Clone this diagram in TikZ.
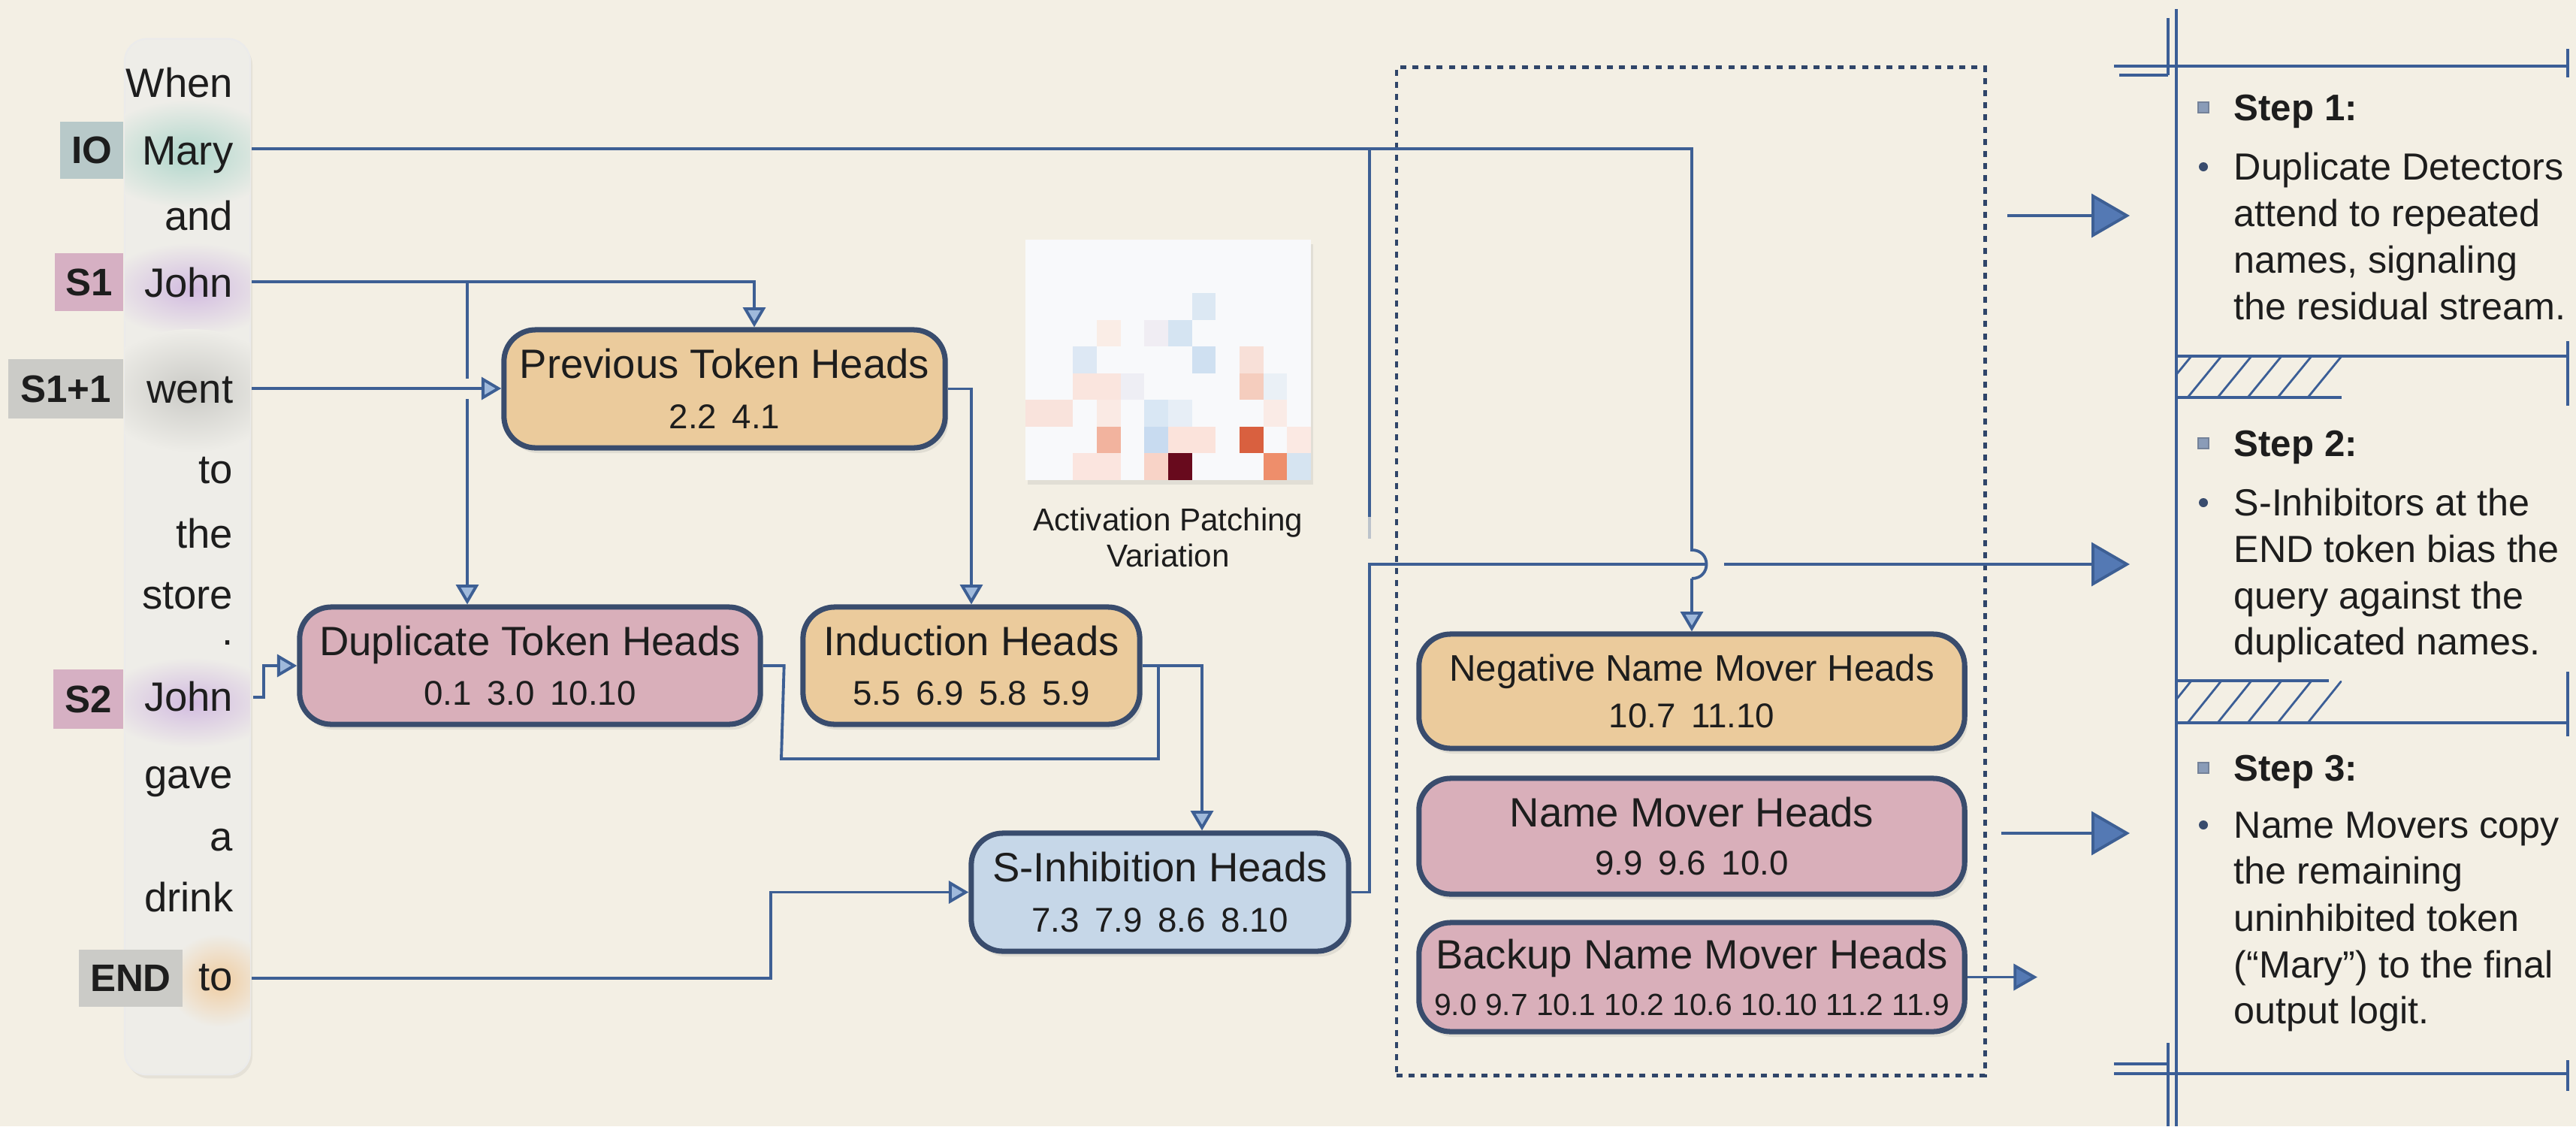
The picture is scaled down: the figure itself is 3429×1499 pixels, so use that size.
\documentclass[tikz,border=0pt]{standalone}
\usepackage{fontspec}
\setmainfont{Liberation Sans}
\usetikzlibrary{arrows.meta,shadows,calc}

\definecolor{paper}{HTML}{F3EFE4}
\definecolor{wirecol}{HTML}{3D5F94}
\definecolor{rim}{HTML}{394C6D}
\definecolor{tipfill}{HTML}{9FB9DB}
\definecolor{stepfill}{HTML}{5479B4}
\definecolor{tanbox}{HTML}{EBCB9C}
\definecolor{rosebox}{HTML}{D9AFBA}
\definecolor{skybox}{HTML}{C6D7E8}
\definecolor{colfill}{HTML}{EEEDE8}
\definecolor{ink}{HTML}{1D1D1D}
\definecolor{tagIO}{HTML}{B8C9C9}
\definecolor{tagS}{HTML}{D6B0C3}
\definecolor{tagG}{HTML}{CBCBC7}
\definecolor{glowTeal}{HTML}{AFD6CB}
\definecolor{glowLilac}{HTML}{D2BBE0}
\definecolor{glowGrey}{HTML}{CACAC6}
\definecolor{glowPeach}{HTML}{F0CCA0}
\definecolor{panelcol}{HTML}{3B5E96}
\definecolor{dotline}{HTML}{2F4569}
\definecolor{bulletsq}{HTML}{8A9CB8}
\definecolor{heatbg}{HTML}{F8F9FB}

\newcommand{\numgap}{\hspace{0.45em}}
% one heatmap cell: column, row, hex colour
\newcommand{\hmcell}[3]{\definecolor{hmtmp}{HTML}{#3}\fill[hmtmp] ({1365+#1*31.667},{319+#2*35.556}) rectangle ++(31.667,35.556);}

\tikzset{
  wireline/.style={draw=wirecol, line width=1.1pt},
  arrowsm/.style={-{Triangle[length=7.5pt, width=8.5pt, fill=tipfill]}},
  arrowmd/.style={-{Triangle[length=9pt, width=10pt, fill=stepfill]}},
  arrowlg/.style={-{Triangle[length=14.5pt, width=16.5pt, fill=stepfill]}},
  headbox/.style={draw=rim, line width=2pt, rounded corners=0.42cm, align=center, inner sep=0pt,
    font=\fontsize{15.5}{19}\selectfont,
    drop shadow={opacity=0.16, shadow xshift=0.04cm, shadow yshift=-0.07cm}},
  tokentag/.style={inner sep=0pt, font=\fontsize{14.5}{17}\selectfont\bfseries},
  tokword/.style={anchor=base east, inner sep=0pt, font=\fontsize{15.5}{18}\selectfont},
  stepline/.style={anchor=base west, inner sep=0pt, font=\fontsize{14.3}{17}\selectfont},
  stephead/.style={anchor=base west, inner sep=0pt, font=\fontsize{14}{17}\selectfont\bfseries},
  panelrule/.style={draw=panelcol, line width=0.9pt},
  hatchline/.style={draw=panelcol, line width=0.8pt},
}

\begin{document}
\begin{tikzpicture}[x=0.01cm, y=-0.01cm, text=ink]
\useasboundingbox (0,0) rectangle (3429,1499);
\fill[paper] (0,0) rectangle (3429,1499);

% ---------- token column ----------
\node[fill=colfill, draw=black!8, line width=0.6pt, rounded corners=0.3cm,
      minimum width=1.67cm, minimum height=13.78cm, inner sep=0pt,
      drop shadow={opacity=0.12, shadow xshift=0.03cm, shadow yshift=-0.05cm}] (col) at (249.5,741) {};
\begin{scope}
  \clip[rounded corners=0.3cm] (166,52) rectangle (333,1430);
  \shade[inner color=glowTeal, outer color=colfill] (250,205) ellipse [x radius=1.25cm, y radius=0.72cm];
  \shade[inner color=glowLilac, outer color=colfill] (255,385) ellipse [x radius=1.2cm, y radius=0.62cm];
  \shade[inner color=glowGrey, outer color=colfill] (255,520) ellipse [x radius=1.25cm, y radius=0.82cm];
  \shade[inner color=glowLilac, outer color=colfill] (255,935) ellipse [x radius=1.2cm, y radius=0.6cm];
  \shade[inner color=glowPeach, outer color=colfill] (292,1305) ellipse [x radius=0.7cm, y radius=0.62cm];
\end{scope}

% position tags
\node[tokentag, fill=tagIO, minimum width=0.84cm, minimum height=0.76cm] (tIO) at (122,200) {IO};
\node[tokentag, fill=tagS, minimum width=0.91cm, minimum height=0.77cm] (tS1) at (118.5,375.5) {S1};
\node[tokentag, fill=tagG, minimum width=1.53cm, minimum height=0.79cm] (tS1n) at (87.5,517.5) {S1+1};
\node[tokentag, fill=tagS, minimum width=0.93cm, minimum height=0.79cm] (tS2) at (117.5,930.5) {S2};
\node[tokentag, fill=tagG, minimum width=1.38cm, minimum height=0.76cm] (tEND) at (174,1302) {END};

% sentence tokens
\node[tokword] (w1) at (311,129) {When};
\node[tokword] (w2) at (311,219) {Mary};
\node[tokword] (w3) at (311,306) {and};
\node[tokword] (w4) at (311,395) {John};
\node[tokword] (w5) at (311,536) {went};
\node[tokword] (w6) at (311,643) {to};
\node[tokword] (w7) at (311,729) {the};
\node[tokword] (w8) at (311,810) {store};
\node[tokword] (w9) at (311,858) {.};
\node[tokword] (w10) at (311,946) {John};
\node[tokword] (w11) at (311,1049) {gave};
\node[tokword] (w12) at (311,1132) {a};
\node[tokword] (w13) at (311,1213) {drink};
\node[tokword] (w14) at (311,1318) {to};

% ---------- head groups ----------
\node[headbox, fill=tanbox, minimum width=5.87cm, minimum height=1.57cm] (prev) at (964.5,517.5)
  {Previous Token Heads\\{\fontsize{13}{15}\selectfont 2.2\numgap 4.1}};
\node[headbox, fill=rosebox, minimum width=6.13cm, minimum height=1.56cm] (dup) at (705.5,886)
  {Duplicate Token Heads\\{\fontsize{13}{15}\selectfont 0.1\numgap 3.0\numgap 10.10}};
\node[headbox, fill=tanbox, minimum width=4.48cm, minimum height=1.56cm] (ind) at (1293,886)
  {Induction Heads\\{\fontsize{13}{15}\selectfont 5.5\numgap 6.9\numgap 5.8\numgap 5.9}};
\node[headbox, fill=skybox, minimum width=5.02cm, minimum height=1.57cm] (sinh) at (1544,1187.5)
  {S-Inhibition Heads\\{\fontsize{13}{15}\selectfont 7.3\numgap 7.9\numgap 8.6\numgap 8.10}};

% name mover group
\node[draw=dotline, line width=1.3pt, dash pattern=on 2.3pt off 2.3pt, inner sep=0pt,
      minimum width=7.83cm, minimum height=13.41cm] (grp) at (2250.5,760.5) {};
\node[headbox, fill=tanbox, minimum width=7.26cm, minimum height=1.52cm, font=\fontsize{14}{17.6}\selectfont] (neg) at (2252,920)
  {Negative Name Mover Heads\\{\fontsize{13}{15}\selectfont 10.7\numgap 11.10}};
\node[headbox, fill=rosebox, minimum width=7.26cm, minimum height=1.54cm, font=\fontsize{15.5}{18.2}\selectfont] (namemv) at (2252,1113)
  {Name Mover Heads\\{\fontsize{13}{15}\selectfont 9.9\numgap 9.6\numgap 10.0}};
\node[headbox, fill=rosebox, minimum width=7.26cm, minimum height=1.45cm, font=\fontsize{15.5}{17.6}\selectfont] (backup) at (2252,1300.5)
  {Backup Name Mover Heads\\{\fontsize{11.6}{13}\selectfont 9.0 9.7 10.1 10.2 10.6 10.10 11.2 11.9}};

% ---------- activation patching heatmap ----------
\node[fill=heatbg, minimum width=3.8cm, minimum height=3.2cm, inner sep=0pt,
      drop shadow={opacity=0.15, shadow xshift=0.03cm, shadow yshift=-0.06cm}] (heat) at (1555,479) {};
\hmcell{7}{2}{DCE8F3}
\hmcell{3}{3}{FAEDE6}
\hmcell{5}{3}{F0EDF3}
\hmcell{6}{3}{D5E4F2}
\hmcell{2}{4}{DDE8F4}
\hmcell{7}{4}{CFE0F1}
\hmcell{9}{4}{F8E0D8}
\hmcell{2}{5}{FAE5DE}
\hmcell{3}{5}{FAE5DE}
\hmcell{4}{5}{EEEEF4}
\hmcell{9}{5}{F5CDBE}
\hmcell{10}{5}{EAF0F6}
\hmcell{0}{6}{F9E3DC}
\hmcell{1}{6}{F9E3DC}
\hmcell{3}{6}{FAEAE4}
\hmcell{5}{6}{D9E7F4}
\hmcell{6}{6}{E7EEF6}
\hmcell{10}{6}{FAEBE6}
\hmcell{3}{7}{F2B39E}
\hmcell{5}{7}{C8DBF0}
\hmcell{6}{7}{FBE3DB}
\hmcell{7}{7}{FBE3DB}
\hmcell{9}{7}{D9603F}
\hmcell{11}{7}{FBE9E3}
\hmcell{2}{8}{FBE5DF}
\hmcell{3}{8}{FBE5DF}
\hmcell{5}{8}{F8D3C7}
\hmcell{6}{8}{680A1D}
\hmcell{10}{8}{EE8E6B}
\hmcell{11}{8}{D6E4F1}
\node[anchor=base, inner sep=0pt, font=\fontsize{12}{14}\selectfont] (capA) at (1555,706) {Activation Patching};
\node[anchor=base, inner sep=0pt, font=\fontsize{12}{14}\selectfont] (capB) at (1555,754) {Variation};

% ---------- connector anchors ----------
\coordinate (oMary) at (335,198);
\coordinate (oJohnA) at (335,375);
\coordinate (oWent) at (335,517);
\coordinate (oJohnB) at (337,928);
\coordinate (oEnd) at (335,1302);
\coordinate (jBr) at (622,375);
\coordinate (jGapA) at (622,504);
\coordinate (jGapB) at (622,531);
\coordinate (pIn) at ([xshift=0.395cm]prev.north);
\coordinate (sIn) at ([xshift=0.56cm]sinh.north);
\coordinate (dDrop) at (1040,1010);
\coordinate (dJoin) at (1542,886);
\coordinate (eBend) at (1026,1302);
\coordinate (mTurn) at (2252,198);
\coordinate (mBranch) at (1823,198);
\coordinate (mStub) at (1823,688);
\coordinate (mFade) at (1823,717);
\coordinate (hopA) at (2252,732);
\coordinate (hopB) at (2252,770);
\coordinate (sUp) at (1823,751);
\coordinate (sHop) at (2271,751);
\coordinate (sResume) at (2295,751);
\coordinate (from1) at (2672,287);
\coordinate (tip1) at (2835,287);
\coordinate (tip2) at (2835,751);
\coordinate (from3) at (2664,1109);
\coordinate (tip3) at (2835,1109);
\coordinate (tipB) at (2712,1300.5);

% ---------- connectors ----------
\draw[wireline] (oMary) -- (mTurn) -- (hopA) .. controls (2278,732) and (2278,770) .. (hopB);
\draw[wireline, arrowsm] (hopB) -- (neg.north);
\draw[wireline] (mBranch) -- (mStub);
\draw[wireline, draw opacity=0.3] (mStub) -- (mFade);
\draw[wireline, arrowsm] (oJohnA) -| (pIn);
\draw[wireline] (jBr) -- (jGapA);
\draw[wireline, arrowsm] (jGapB) -- (jBr |- dup.north);
\draw[wireline, arrowsm] (oWent) -- (oWent -| prev.west);
\draw[wireline, arrowsm] (prev.east) -| (ind.north);
\draw[wireline, arrowsm] (oJohnB) -- ++(14,0) |- (dup.west);
\draw[wireline] (dup.east) -- ++(28,0) -- (dDrop) -| (dJoin);
\draw[wireline, arrowsm] (ind.east) -| (sIn);
\draw[wireline, arrowsm] (oEnd) -- (eBend) |- (sinh.west);
\draw[wireline] (sinh.east) -| (sUp) -- (sHop);
\draw[wireline, arrowlg] (sResume) -- (tip2);
\draw[wireline, arrowlg] (from1) -- (tip1);
\draw[wireline, arrowlg] (from3) -- (tip3);
\draw[wireline, arrowmd] (backup.east) -- (tipB);

% ---------- step panel frame ----------
\draw[panelrule] (2897,12) -- (2897,1499);
\draw[panelrule] (2886,24) -- (2886,100);
\draw[panelrule] (2814,88) -- (3420,88);
\draw[panelrule] (2821,100) -- (2886,100);
\draw[panelrule] (3418,65) -- (3418,103);
\draw[panelrule] (2897,474) -- (3420,474);
\draw[panelrule] (2897,529) -- (3117,529);
\draw[panelrule] (3418,454) -- (3418,540);
\draw[panelrule] (2897,906) -- (3100,906);
\draw[panelrule] (2897,962) -- (3420,962);
\draw[panelrule] (3418,894) -- (3418,980);
\draw[panelrule] (2814,1429) -- (3420,1429);
\draw[panelrule] (2814,1416) -- (2886,1416);
\draw[panelrule] (2886,1388) -- (2886,1499);
\draw[panelrule] (3418,1411) -- (3418,1452);
\begin{scope}
  \clip (2897,474) rectangle (3117,529);
  \foreach \xx in {2872,2912,...,3072} \draw[hatchline] (\xx,529) -- ++(45,-55);
\end{scope}
\begin{scope}
  \clip (2897,906) rectangle (3117,962);
  \foreach \xx in {2872,2912,...,3072} \draw[hatchline] (\xx,962) -- ++(45,-56);
\end{scope}

% ---------- step texts ----------
\node[draw=rim!70, fill=bulletsq, minimum size=0.14cm, inner sep=0pt] (sq1) at (2933,143) {};
\node[stephead] (h1) at (2973,160) {Step 1:};
\node[circle, fill=rim, minimum size=0.12cm, inner sep=0pt] (dt1) at (2933,222) {};
\node[stepline] (a1) at (2973,239) {Duplicate Detectors};
\node[stepline] (a2) at (2973,301) {attend to repeated};
\node[stepline] (a3) at (2973,363) {names, signaling};
\node[stepline] (a4) at (2973,425) {the residual stream.};

\node[draw=rim!70, fill=bulletsq, minimum size=0.14cm, inner sep=0pt] (sq2) at (2933,590) {};
\node[stephead] (h2) at (2973,607) {Step 2:};
\node[circle, fill=rim, minimum size=0.12cm, inner sep=0pt] (dt2) at (2933,669) {};
\node[stepline] (b1) at (2973,686) {S-Inhibitors at the};
\node[stepline] (b2) at (2973,748) {END token bias the};
\node[stepline] (b3) at (2973,810) {query against the};
\node[stepline] (b4) at (2973,871) {duplicated names.};

\node[draw=rim!70, fill=bulletsq, minimum size=0.14cm, inner sep=0pt] (sq3) at (2933,1022) {};
\node[stephead] (h3) at (2973,1039) {Step 3:};
\node[circle, fill=rim, minimum size=0.12cm, inner sep=0pt] (dt3) at (2933,1098) {};
\node[stepline] (c1) at (2973,1115) {Name Movers copy};
\node[stepline] (c2) at (2973,1176) {the remaining};
\node[stepline] (c3) at (2973,1239) {uninhibited token};
\node[stepline] (c4) at (2973,1301) {(“Mary”) to the final};
\node[stepline] (c5) at (2973,1362) {output logit.};
\end{tikzpicture}
\end{document}
